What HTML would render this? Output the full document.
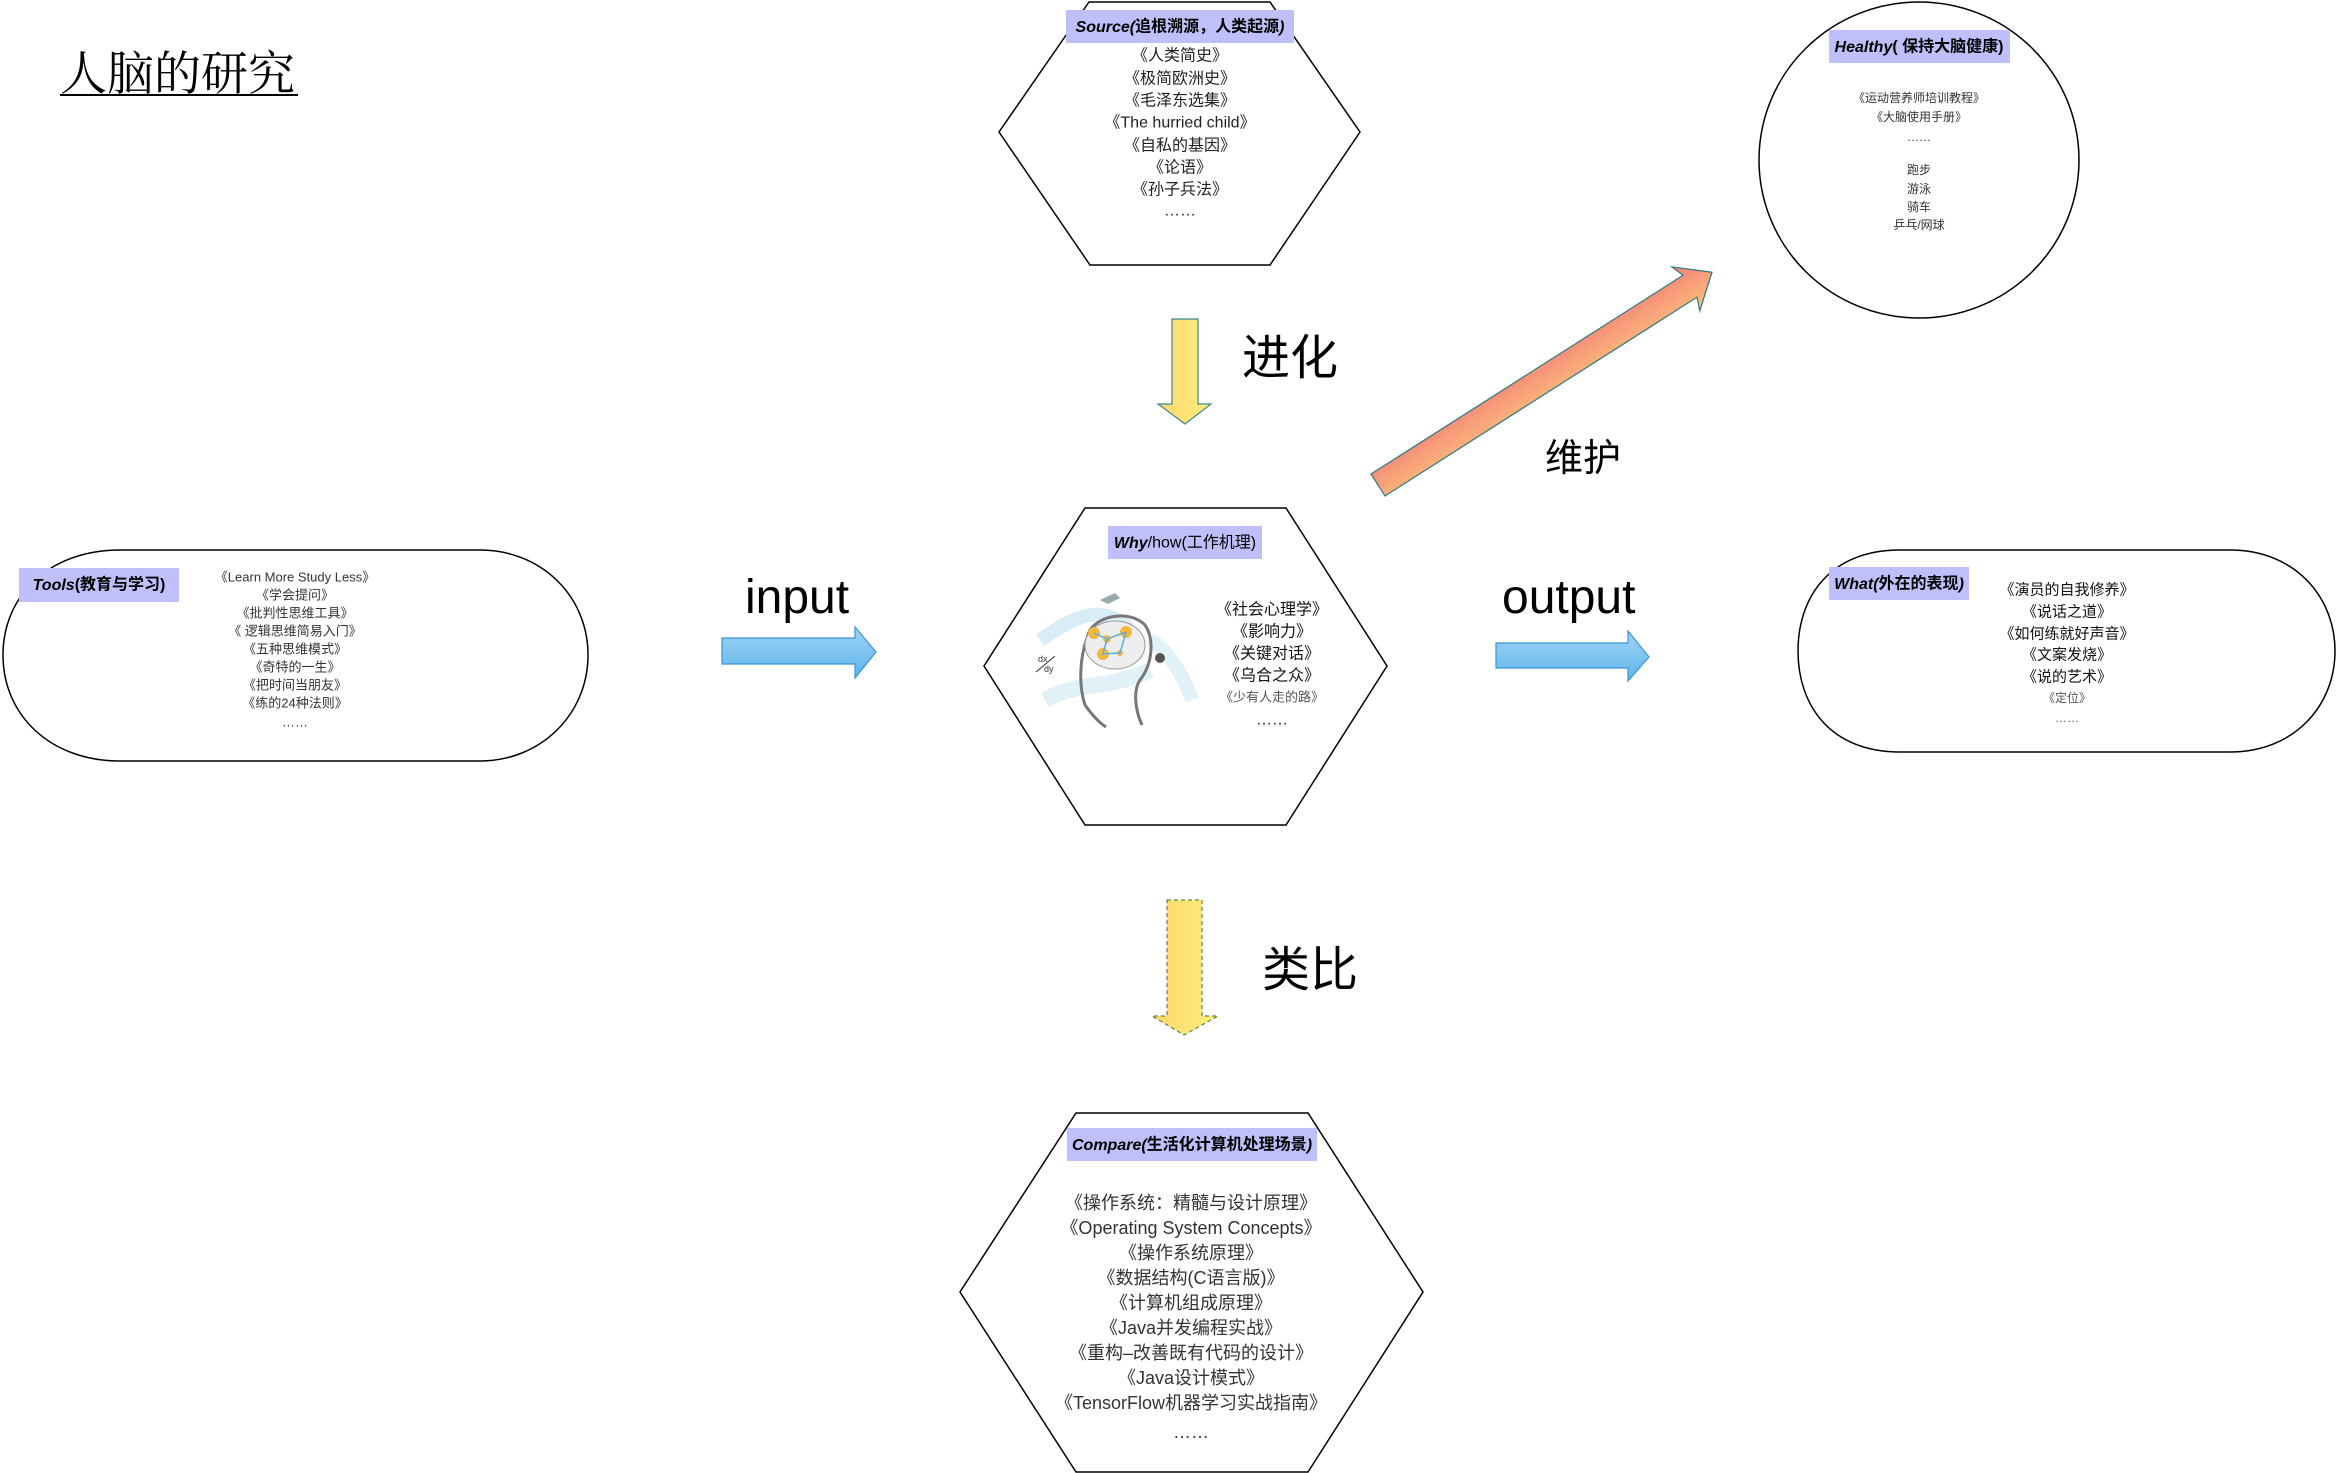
<!DOCTYPE html>
<html><head><meta charset="utf-8"><style>
html,body{margin:0;padding:0;background:#fff;}
svg{display:block;}
text{font-family:"Liberation Sans","Noto Sans CJK SC",sans-serif;}
</style></head><body>
<svg width="2336" height="1473" viewBox="0 0 2336 1473" xmlns="http://www.w3.org/2000/svg">
<defs>
<linearGradient id="yel" x1="0" x2="1" y1="0" y2="0"><stop offset="0" stop-color="#fcd66e"/><stop offset="1" stop-color="#fff07a"/></linearGradient>
<linearGradient id="blu" x1="0" x2="0" y1="0" y2="1"><stop offset="0" stop-color="#9fd6f7"/><stop offset="1" stop-color="#5fb3ea"/></linearGradient>
<linearGradient id="pnk" x1="0" x2="0" y1="0" y2="1"><stop offset="0" stop-color="#f4807a"/><stop offset="1" stop-color="#fcc07a"/></linearGradient>
</defs>

<text x="60" y="90" font-size="47" style='font-family:"Liberation Serif","Noto Serif CJK SC",serif' fill="#000">人脑的研究</text>
<line x1="60" y1="95" x2="298" y2="95" stroke="#000" stroke-width="2"/>

<polygon points="1089,2 1270,2 1360,132 1270,265 1090,265 999,132" fill="#fff" stroke="#000" stroke-width="1.5"/>
<rect x="1066" y="10" width="228" height="33" fill="#bfbffb"/>
<text x="1180" y="27" font-size="16" text-anchor="middle" dominant-baseline="central" font-weight="bold"><tspan font-style="italic">Source(</tspan>追根溯源，人类起源<tspan font-style="italic">)</tspan></text>
<g font-size="16" fill="#222" text-anchor="middle" dominant-baseline="central">
<text x="1180" y="56">《人类简史》</text>
<text x="1180" y="79">《极简欧洲史》</text>
<text x="1180" y="101">《毛泽东选集》</text>
<text x="1180" y="123">《The hurried child》</text>
<text x="1180" y="146">《自私的基因》</text>
<text x="1180" y="168">《论语》</text>
<text x="1180" y="190">《孙子兵法》</text>
<text x="1180" y="211">……</text>
</g>

<polygon points="1172,319 1198,319 1198,404 1211,404 1185,424 1158,404 1172,404" fill="url(#yel)" stroke="#3a8a8a" stroke-width="1.2"/>
<text x="1242" y="374" font-size="48">进化</text>

<ellipse cx="1919" cy="160" rx="160" ry="158" fill="#fff" stroke="#000" stroke-width="1.5"/>
<rect x="1829" y="30" width="181" height="33" fill="#bfbffb"/>
<text x="1919" y="47" font-size="16" text-anchor="middle" dominant-baseline="central" font-weight="bold"><tspan font-style="italic">Healthy</tspan>( 保持大脑健康)</text>
<g font-size="12" fill="#333" text-anchor="middle" dominant-baseline="central">
<text x="1919" y="98">《运动营养师培训教程》</text>
<text x="1919" y="117">《大脑使用手册》</text>
<text x="1919" y="137">……</text>
<text x="1919" y="170">跑步</text>
<text x="1919" y="189">游泳</text>
<text x="1919" y="207">骑车</text>
<text x="1919" y="225">乒乓/网球</text>
</g>

<g transform="translate(1378,485) rotate(-32.5)">
<polygon points="0,-13 370,-13 365,-26 396,0 365,26 370,13 0,13" fill="url(#pnk)" stroke="#2a7a7a" stroke-width="1.2"/>
</g>
<text x="1545" y="471" font-size="38">维护</text>

<path d="M120,550 L480,550 C540,550 588,595 588,655 C588,715 540,761 480,761 L120,761 C50,761 3,715 3,655 C3,595 50,550 120,550 Z" fill="#fff" stroke="#000" stroke-width="1.5"/>
<rect x="19" y="568" width="160" height="34" fill="#bfbffb"/>
<text x="99" y="585" font-size="16" text-anchor="middle" dominant-baseline="central" font-weight="bold"><tspan font-style="italic">Tools</tspan>(教育与学习)</text>
<g font-size="13" fill="#333" text-anchor="middle" dominant-baseline="central">
<text x="295" y="577">《Learn More Study Less》</text>
<text x="295" y="595">《学会提问》</text>
<text x="295" y="613">《批判性思维工具》</text>
<text x="295" y="631">《 逻辑思维简易入门》</text>
<text x="295" y="649">《五种思维模式》</text>
<text x="295" y="667">《奇特的一生》</text>
<text x="295" y="685">《把时间当朋友》</text>
<text x="295" y="703">《练的24种法则》</text>
<text x="295" y="722">……</text>
</g>

<text x="745" y="613" font-size="48">input</text>
<polygon points="722,638 855,638 855,627 876,652 855,678 855,664 722,664" fill="url(#blu)" stroke="#3a95d8" stroke-width="1.2"/>

<polygon points="1085,508 1286,508 1387,666 1286,825 1085,825 984,666" fill="#fff" stroke="#000" stroke-width="1.5"/>
<rect x="1108" y="526" width="154" height="33" fill="#bfbffb"/>
<text x="1185" y="543" font-size="16" text-anchor="middle" dominant-baseline="central"><tspan font-weight="bold" font-style="italic">Why</tspan>/how(工作机理)</text>
<g>
<path d="M1040,640 C1070,620 1100,600 1130,630" stroke="#cfe9f4" stroke-width="14" fill="none" opacity="0.8"/>
<path d="M1045,700 C1080,680 1110,690 1150,670" stroke="#d8eef6" stroke-width="16" fill="none" opacity="0.8"/>
<path d="M1150,640 C1170,650 1185,680 1192,700" stroke="#d8eef6" stroke-width="14" fill="none" opacity="0.8"/>
<polygon points="1100,600 1115,593 1120,598 1108,604" fill="#9aa"/>
<path d="M1085,705 C1080,690 1077,660 1090,630 C1100,615 1130,610 1145,625 C1155,640 1152,665 1140,680 C1133,690 1135,710 1142,725" stroke="#777" stroke-width="3" fill="none"/>
<path d="M1085,705 C1090,712 1098,722 1106,727" stroke="#777" stroke-width="3" fill="none"/>
<ellipse cx="1115" cy="645" rx="30" ry="24" fill="#eee" stroke="#999"/>
<circle cx="1094" cy="633" r="6" fill="#f5b73a"/>
<circle cx="1107" cy="639" r="4" fill="#f5b73a"/>
<circle cx="1126" cy="632" r="6" fill="#f5b73a"/>
<circle cx="1103" cy="654" r="6" fill="#f5b73a"/>
<circle cx="1120" cy="653" r="3" fill="#f5b73a"/>
<path d="M1094,633 L1107,639 L1126,632 M1107,639 L1103,654 L1120,653 L1126,632" stroke="#5ab0e0" stroke-width="1.5" fill="none"/>
<circle cx="1160" cy="658" r="5" fill="#555"/>
<text x="1038" y="662" font-size="9" fill="#333" font-family="serif">dx</text>
<text x="1044" y="672" font-size="9" fill="#333" font-family="serif">dy</text>
<line x1="1036" y1="672" x2="1055" y2="656" stroke="#333"/>
</g>
<g font-size="16" fill="#111" text-anchor="middle" dominant-baseline="central">
<text x="1272" y="610">《社会心理学》</text>
<text x="1272" y="632">《影响力》</text>
<text x="1272" y="654">《关键对话》</text>
<text x="1272" y="676">《乌合之众》</text>
<text x="1272" y="697" font-size="13" fill="#555">《少有人走的路》</text>
<text x="1272" y="720">……</text>
</g>

<text x="1502" y="613" font-size="48">output</text>
<polygon points="1496,643 1628,643 1628,631 1649,657 1628,681 1628,668 1496,668" fill="url(#blu)" stroke="#3a95d8" stroke-width="1.2"/>

<path d="M1900,550 L2230,550 C2295,550 2335,597 2335,651 C2335,705 2295,752 2230,752 L1900,752 C1830,752 1798,705 1798,651 C1798,597 1830,550 1900,550 Z" fill="#fff" stroke="#000" stroke-width="1.5"/>
<rect x="1829" y="567" width="140" height="33" fill="#bfbffb"/>
<text x="1899" y="584" font-size="16" text-anchor="middle" dominant-baseline="central" font-weight="bold"><tspan font-style="italic">What(</tspan>外在的表现<tspan font-style="italic">)</tspan></text>
<g font-size="15" fill="#111" text-anchor="middle" dominant-baseline="central">
<text x="2067" y="590">《演员的自我修养》</text>
<text x="2067" y="612">《说话之道》</text>
<text x="2067" y="634">《如何练就好声音》</text>
<text x="2067" y="655">《文案发烧》</text>
<text x="2067" y="677">《说的艺术》</text>
<text x="2067" y="698" font-size="12" fill="#555">《定位》</text>
<text x="2067" y="718" font-size="12" fill="#555">……</text>
</g>

<polygon points="1167,900 1202,900 1202,1016 1218,1016 1184,1035 1152,1016 1167,1016" fill="url(#yel)" stroke="#5a8a3a" stroke-width="1.2" stroke-dasharray="4,3"/>
<text x="1262" y="986" font-size="48">类比</text>

<polygon points="1076,1113 1308,1113 1423,1292 1308,1472 1076,1472 960,1292" fill="#fff" stroke="#000" stroke-width="1.5"/>
<rect x="1067" y="1128" width="250" height="33" fill="#bfbffb"/>
<text x="1192" y="1145" font-size="16" text-anchor="middle" dominant-baseline="central" font-weight="bold"><tspan font-style="italic">Compare(</tspan>生活化计算机处理场景<tspan font-style="italic">)</tspan></text>
<g font-size="18" fill="#333" text-anchor="middle" dominant-baseline="central">
<text x="1191" y="1203">《操作系统：精髓与设计原理》</text>
<text x="1191" y="1228">《Operating System Concepts》</text>
<text x="1191" y="1253">《操作系统原理》</text>
<text x="1191" y="1278">《数据结构(C语言版)》</text>
<text x="1191" y="1303">《计算机组成原理》</text>
<text x="1191" y="1328">《Java并发编程实战》</text>
<text x="1191" y="1353">《重构–改善既有代码的设计》</text>
<text x="1191" y="1378">《Java设计模式》</text>
<text x="1191" y="1403">《TensorFlow机器学习实战指南》</text>
<text x="1191" y="1432">……</text>
</g>
</svg>
</body></html>
